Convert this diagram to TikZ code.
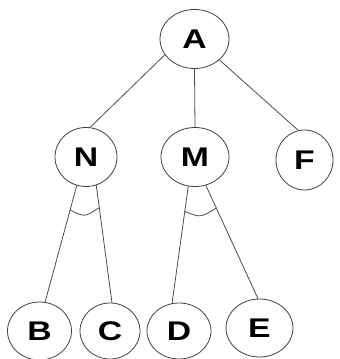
\documentclass[tikz,border=0pt]{standalone}
\usepackage{fontspec}
\usepackage{graphicx}
\newfontfamily\labfont{Liberation Sans}
\usetikzlibrary{shapes.geometric,calc}
\tikzset{
  tnode/.style={draw=black!75, line width=0.8pt, ellipse, inner sep=0pt,
    font=\labfont\bfseries\fontsize{27}{27}\selectfont, text=black},
  link/.style={draw=black!70, line width=0.8pt},
}
\newcommand{\wide}[1]{\scalebox{1.25}[1]{#1}}
\begin{document}
\begin{tikzpicture}[x=1pt,y=1pt]
  \useasboundingbox (0,0) rectangle (340,359);
  % nodes
  \node[tnode, minimum width=69pt, minimum height=59pt] (A) at (194.5,320) {\wide{A}};
  \node[tnode, minimum width=62pt, minimum height=59pt] (N) at (86,202) {\wide{N}};
  \node[tnode, minimum width=68pt, minimum height=59pt] (M) at (195,202) {\wide{M}};
  \node[tnode, minimum width=57pt, minimum height=60pt] (F) at (304.5,199) {\wide{F}};
  \node[tnode, minimum width=64pt, minimum height=58pt] (B) at (39.5,28) {\wide{B}};
  \node[tnode, minimum width=60pt, minimum height=56pt] (C) at (110,28) {\wide{C}};
  \node[tnode, minimum width=64pt, minimum height=56pt] (D) at (179,28) {\wide{D}};
  \node[tnode, minimum width=67pt, minimum height=58pt] (E) at (259.5,31) {\wide{E}};
  % edges
  \draw[link] (A.208) -- (N.82);
  \draw[link] (A.270) -- (M.90);
  \draw[link] (A.320) -- (F.102);
  \draw[link] (N.252) -- coordinate[pos=0.21] (nb) (B.79);
  \draw[link] (N.290) -- coordinate[pos=0.19] (nc) (C.86);
  \draw[link] (M.257) -- coordinate[pos=0.215] (md) (D.104);
  \draw[link] (M.291) -- coordinate[pos=0.2] (me) (E.93);
  % AND arcs
  \draw[link] (nb) .. controls ($(nb)!0.5!(nc)+(0,-8.5)$) .. (nc);
  \draw[link] (md) .. controls ($(md)!0.5!(me)+(0,-8)$) .. (me);
\end{tikzpicture}
\end{document}
